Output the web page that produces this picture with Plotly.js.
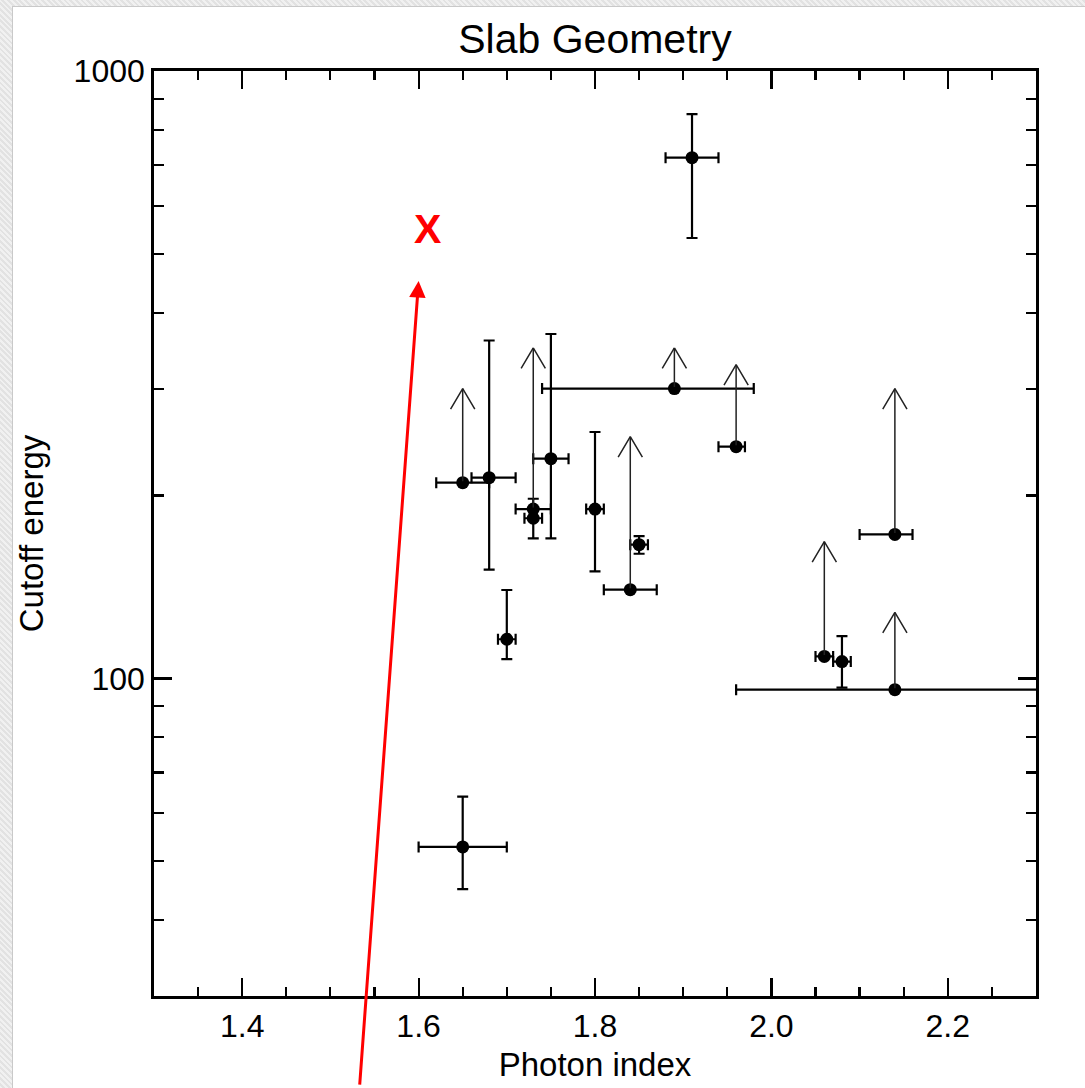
<!DOCTYPE html>
<html>
<head>
<meta charset="utf-8">
<script src="https://cdn.plot.ly/plotly-3.0.1.min.js"></script>
<style>
  html, body { margin: 0; padding: 0; width: 1085px; height: 1088px; overflow: hidden;
    background-color: #e9e9e9;
    background-image: repeating-linear-gradient(45deg, rgba(255,255,255,0.35) 0 2px, rgba(0,0,0,0.03) 2px 4px); }
  #chart { position: absolute; left: 12px; top: 6px; width: 1073px; height: 1082px;
    background: #fff; border-left: 1px solid #c9c9c9; border-top: 1px solid #c9c9c9; box-sizing: border-box; }
</style>
</head>
<body>
<div id="chart"></div>
<script>
// Measured points (two-sided errors)
var measX   = [1.68, 1.73, 1.75, 1.80, 1.85, 1.70, 2.08, 1.91, 1.65];
var measY   = [214, 183.5, 230, 190, 166, 116, 106.6, 720, 52.8];
var measXlo = [1.66, 1.72, 1.73, 1.79, 1.84, 1.69, 2.07, 1.88, 1.60];
var measXhi = [1.71, 1.74, 1.77, 1.81, 1.86, 1.71, 2.09, 1.94, 1.70];
var measYlo = [151, 170, 170, 150, 160.4, 107.6, 96.6, 531, 45.0];
var measYhi = [360, 197.6, 369, 254.5, 171.5, 139.8, 117.4, 849, 63.9];

// Lower limits (arrows pointing up)
var limX    = [1.65, 1.73, 1.89, 1.84, 1.96, 2.14, 2.06, 2.14];
var limY    = [210, 190, 300, 140, 240.7, 172.6, 108.7, 95.8];
var limXlo  = [1.62, 1.71, 1.74, 1.81, 1.94, 2.10, 2.05, 1.96];
var limXhi  = [1.68, 1.75, 1.98, 1.87, 1.97, 2.16, 2.07, 2.45];
var limTip  = [300, 350, 350, 250, 328.5, 300, 168, 128.4];

// Red marker annotation
var markX = 1.61, markY = 550;
var redArrowX = 1.60, redArrowY = 451;

// Axis ticks
var xTickVals = [1.4, 1.6, 1.8, 2.0, 2.2];
var xTickText = ['1.4', '1.6', '1.8', '2.0', '2.2'];
var yTickVals = [100, 1000];
var yTickText = ['100', '1000'];
var yMinorVals = [40, 50, 60, 70, 80, 90, 200, 300, 400, 500, 600, 700, 800, 900];

function diff(a, b) { return a.map(function (v, i) { return v - b[i]; }); }

var font = 'Liberation Sans, Arial, Helvetica, sans-serif';

var traceMeas = {
  x: measX, y: measY, type: 'scatter', mode: 'markers',
  marker: { color: '#000', size: 13 },
  error_x: { type: 'data', symmetric: false, array: diff(measXhi, measX), arrayminus: diff(measX, measXlo),
             color: '#000', thickness: 2.2, width: 5.5 },
  error_y: { type: 'data', symmetric: false, array: diff(measYhi, measY), arrayminus: diff(measY, measYlo),
             color: '#000', thickness: 2.2, width: 5.5 },
  showlegend: false, hoverinfo: 'x+y'
};
var traceLim = {
  x: limX, y: limY, type: 'scatter', mode: 'markers',
  marker: { color: '#000', size: 13 },
  error_x: { type: 'data', symmetric: false, array: diff(limXhi, limX), arrayminus: diff(limX, limXlo),
             color: '#000', thickness: 2.2, width: 5.5 },
  showlegend: false, hoverinfo: 'x+y'
};

var annotations = [];
var arrowColor = '#222';
limX.forEach(function (x, i) {
  var tip = Math.log10(limTip[i]);
  annotations.push({ x: x, y: tip, xref: 'x', yref: 'y', axref: 'x', ayref: 'y',
    ax: x, ay: Math.log10(limY[i]), text: '', showarrow: true, arrowhead: 0,
    arrowwidth: 1.5, arrowcolor: arrowColor });
  [-13, 13].forEach(function (dx) {
    annotations.push({ x: x, y: tip, xref: 'x', yref: 'y', ax: dx, ay: 22, text: '',
      showarrow: true, arrowhead: 0, arrowwidth: 1.5, arrowcolor: arrowColor });
  });
});
annotations.push({ x: redArrowX, y: Math.log10(redArrowY), xref: 'x', yref: 'y', ax: -59, ay: 805,
  text: '', showarrow: true, arrowhead: 2, arrowsize: 1.1, arrowwidth: 3, arrowcolor: '#ff0000' });
annotations.push({ x: markX, y: Math.log10(markY), xref: 'x', yref: 'y', text: '<b>X</b>',
  showarrow: false, font: { family: font, size: 41, color: '#ff0000' } });

var axisCommon = {
  showline: true, linecolor: '#000', linewidth: 2.8, mirror: 'ticks',
  ticks: 'inside', ticklen: 18, tickwidth: 2.2, tickcolor: '#000',
  showgrid: false, zeroline: false,
  tickfont: { family: font, size: 32, color: '#000' }
};

var layout = {
  width: 1073, height: 1082,
  margin: { l: 141, r: 50, t: 64, b: 93 },
  paper_bgcolor: '#ffffff', plot_bgcolor: '#ffffff',
  title: { text: 'Slab Geometry', font: { family: font, size: 41, color: '#000' },
           x: 0.5, xref: 'paper', y: 1 - 31.5 / 1082, yref: 'container', yanchor: 'middle' },
  xaxis: Object.assign({}, axisCommon, {
    range: [1.3, 2.3], tickmode: 'array', tickvals: xTickVals, ticktext: xTickText,
    minor: { dtick: 0.05, tick0: 1.3, ticks: 'inside', ticklen: 9, tickwidth: 2.2, tickcolor: '#000', showgrid: false },
    title: { text: 'Photon index', font: { family: font, size: 33, color: '#000' }, standoff: 10 }
  }),
  yaxis: Object.assign({}, axisCommon, {
    type: 'log', range: [Math.log10(30), 3], tickmode: 'array', tickvals: yTickVals, ticktext: yTickText,
    minor: { tickmode: 'array', tickvals: yMinorVals, ticks: 'inside', ticklen: 10, tickwidth: 2.2, tickcolor: '#000', showgrid: false },
    title: { text: 'Cutoff energy', font: { family: font, size: 33, color: '#000' }, standoff: 26 }
  }),
  annotations: annotations,
  font: { family: font, color: '#000' }
};

Plotly.newPlot('chart', [traceMeas, traceLim], layout, { displayModeBar: false, staticPlot: true });
</script>
</body>
</html>
